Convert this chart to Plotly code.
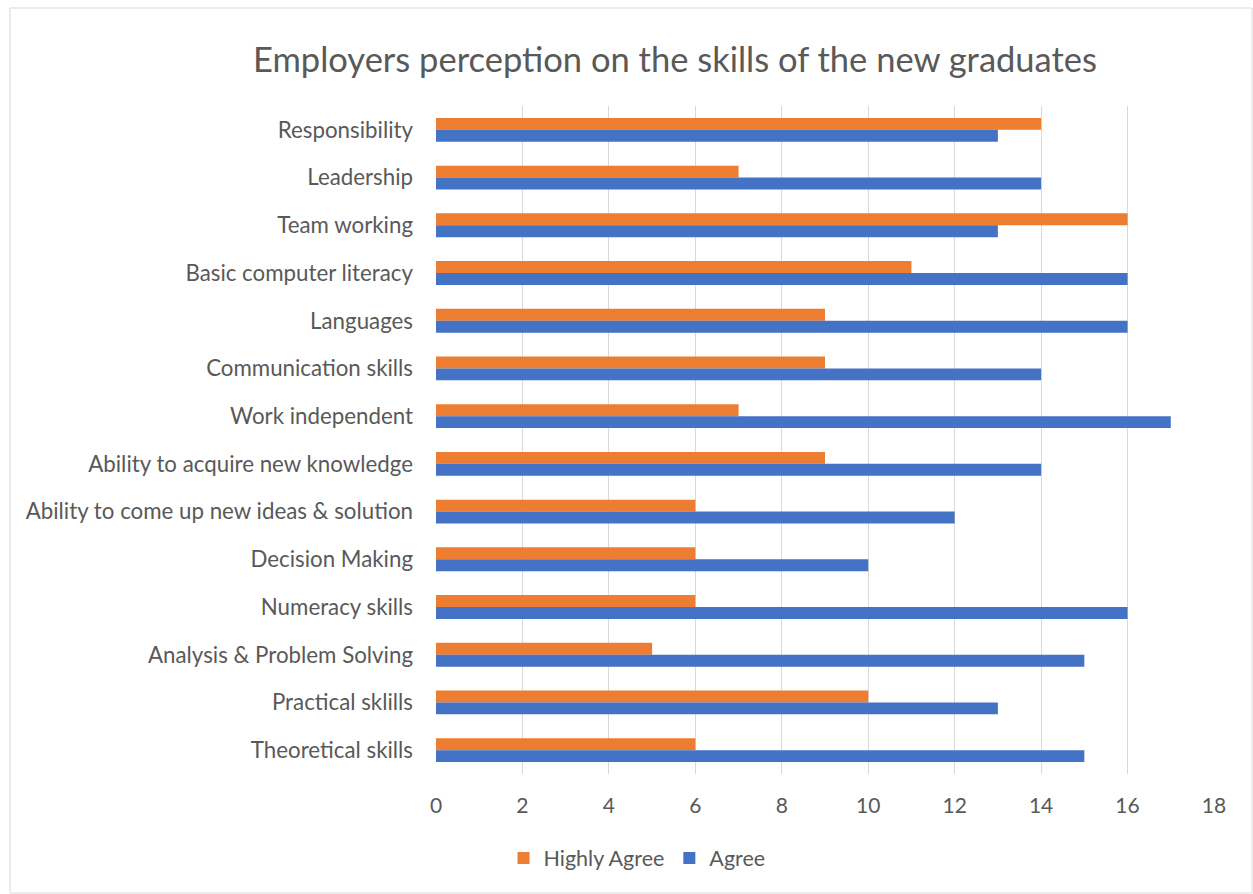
import plotly.graph_objects as go

# Skills rated by employers (top to bottom as listed)
skills = [
    "Responsibility",
    "Leadership",
    "Team working",
    "Basic computer literacy",
    "Languages",
    "Communication skills",
    "Work independent",
    "Ability to acquire new knowledge",
    "Ability to come up new ideas & solution",
    "Decision Making",
    "Numeracy skills",
    "Analysis & Problem Solving",
    "Practical sklills",
    "Theoretical skills",
]
highly_agree = [14, 7, 16, 11, 9, 9, 7, 9, 6, 6, 6, 5, 10, 6]
agree = [13, 14, 13, 16, 16, 14, 17, 14, 12, 10, 16, 15, 13, 15]
x_ticks = [0, 2, 4, 6, 8, 10, 12, 14, 16, 18]

W, H = 1253, 894
L, R, T, B = 436, 39, 106, 120
FONT = "Lato, Open Sans, sans-serif"
GREY = "#595959"

fig = go.Figure()
fig.add_trace(go.Bar(y=skills, x=highly_agree, orientation="h", name="Highly Agree",
                     marker=dict(color="#ED7D31", line=dict(width=0))))
fig.add_trace(go.Bar(y=skills, x=agree, orientation="h", name="Agree",
                     marker=dict(color="#4472C4", line=dict(width=0))))

pw = W - L - R
ph = H - T - B
# outer chart frame
fig.add_shape(type="rect", xref="paper", yref="paper",
              x0=(10 - L) / pw, x1=(W - 1 - L) / pw,
              y0=-(H - 1 - T - ph) / ph, y1=1 + (T - 8) / ph,
              line=dict(color="#d9d9d9", width=1), fillcolor="rgba(0,0,0,0)", layer="below")

fig.update_layout(
    width=W, height=H,
    margin=dict(l=L, r=R, t=T, b=B),
    paper_bgcolor="white", plot_bgcolor="white",
    barmode="group", bargap=0.5, bargroupgap=0,
    font=dict(family=FONT, color=GREY),
    title=dict(text="Employers perception on the skills of the new graduates",
               x=675 / W, xanchor="center", xref="container",
               y=1 - 60 / H, yanchor="middle", yref="container",
               font=dict(size=34.5, color=GREY, family=FONT)),
    legend=dict(orientation="h", x=637 / W, xanchor="center", xref="container",
                y=1 - 858 / H, yanchor="middle", yref="container",
                font=dict(size=21.5, color=GREY), traceorder="normal",
                itemwidth=30),
    showlegend=True,
)
fig.update_xaxes(range=[0, 18], tickvals=x_ticks, showgrid=True, gridcolor="#d9d9d9",
                 gridwidth=1, zeroline=False, showline=False,
                 tickfont=dict(size=21, color=GREY), ticklabelstandoff=17)
fig.update_yaxes(categoryorder="array", categoryarray=skills, autorange="reversed",
                 showgrid=False, zeroline=False, showline=False,
                 tickfont=dict(size=22.3, color=GREY), ticklabelstandoff=22)

fig.write_html("out.html")
